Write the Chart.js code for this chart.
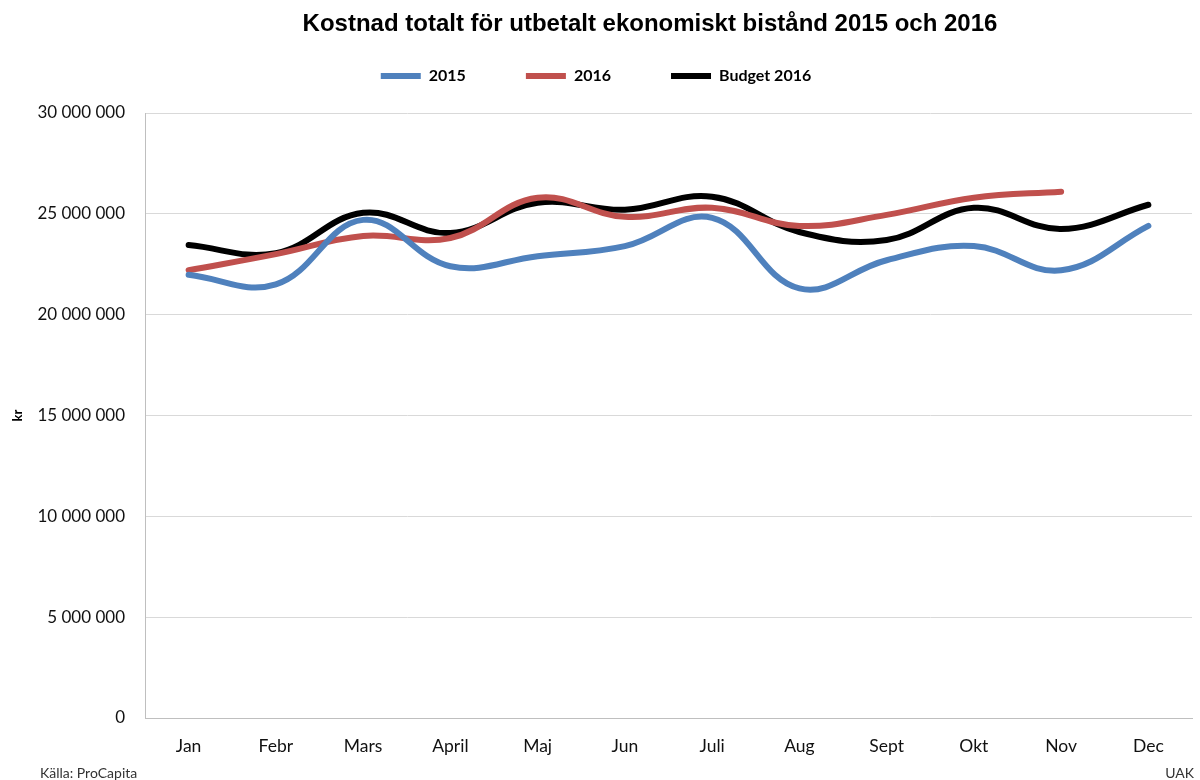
<!DOCTYPE html>
<html>
<head>
<meta charset="utf-8">
<script src="https://cdn.jsdelivr.net/npm/chart.js@4"></script>
<style>
    html, body { margin: 0; padding: 0; background: #fff; }
    #wrap { position: relative; width: 1200px; height: 780px; }
</style>
</head>
<body>
<div id="wrap"><canvas id="kostnadChart"></canvas></div>
<script>
    // Data
    const manader = ["Jan", "Febr", "Mars", "April", "Maj", "Jun", "Juli", "Aug", "Sept", "Okt", "Nov", "Dec"];
    const utfall2015 = [21980000, 21500000, 24700000, 22400000, 22900000, 23400000, 24800000, 21300000, 22700000, 23400000, 22200000, 24400000];
    const utfall2016 = [22200000, 23000000, 23900000, 23800000, 25800000, 24850000, 25300000, 24400000, 24950000, 25800000, 26100000, null];
    const budget2016 = [23450000, 23050000, 25050000, 24050000, 25550000, 25200000, 25850000, 24100000, 23700000, 25300000, 24250000, 25450000];
    const yTicks = [0, 5000000, 10000000, 15000000, 20000000, 25000000, 30000000];

    function formatKr(v) {
        return String(v).replace(/\B(?=(\d{3})+(?!\d))/g, " ");
    }

    // Justeringar av titel/legend + Källa / UAK längst ner
    const layoutFix = {
        id: "layoutFix",
        afterInit(chart) {
            const legend = chart.legend;
            const origFit = legend.fit;
            legend.fit = function () {
                origFit.call(this);
                this.height += 19;
            };
        },
        afterLayout(chart) {
            // titeln ligger lite till höger i originalet
            chart.titleBlock.left = 108;
        },
        afterDraw(chart) {
            const c = chart.ctx;
            c.save();
            c.font = "14px Lato";
            c.fillStyle = "#333";
            c.textBaseline = "middle";
            c.textAlign = "left";
            c.fillText("Källa: ProCapita", 40, 773);
            c.textAlign = "right";
            c.fillText("UAK", 1194, 773);
            c.restore();
        }
    };

    function linje(label, data, farg) {
        return {
            label: label,
            data: data,
            borderColor: farg,
            backgroundColor: farg,
            borderWidth: 6,
            tension: 0.4,
            pointRadius: 0,
            borderCapStyle: "round",
            fill: false
        };
    }

    const ctx = document.getElementById("kostnadChart").getContext("2d");
    new Chart(ctx, {
        type: "line",
        data: {
            labels: manader,
            datasets: [
                linje("2015", utfall2015, "#4f81bd"),
                linje("2016", utfall2016, "#c0504d"),
                linje("Budget 2016", budget2016, "#000000")
            ]
        },
        options: {
            responsive: true,
            maintainAspectRatio: false,
            animation: false,
            layout: { padding: { left: 0, right: 8, top: 2, bottom: 5 } },
            plugins: {
                title: {
                    display: true,
                    text: "Kostnad totalt för utbetalt ekonomiskt bistånd 2015 och 2016",
                    font: { family: "Liberation Sans", size: 24, weight: "bold" },
                    color: "#000",
                    padding: { top: 8, bottom: -30.8 }
                },
                legend: {
                    position: "top",
                    labels: {
                        usePointStyle: true,
                        pointStyle: "line",
                        pointStyleWidth: 40,
                        boxHeight: 8,
                        padding: 60,
                        color: "#000",
                        font: { family: "Lato", size: 16, weight: "bold" }
                    }
                },
                tooltip: { enabled: false }
            },
            scales: {
                x: {
                    offset: true,
                    grid: { display: false, drawTicks: false },
                    border: { display: true, color: "#bfbfbf" },
                    ticks: {
                        color: "#111",
                        padding: 18,
                        font: { family: "Lato", size: 17.5 }
                    }
                },
                y: {
                    min: 0,
                    max: 30000000,
                    afterBuildTicks(axis) {
                        axis.ticks = yTicks.map(v => ({ value: v }));
                    },
                    afterFit(axis) {
                        axis.width = 145;
                    },
                    grid: { color: "#d9d9d9", drawTicks: false },
                    border: { display: true, color: "#bfbfbf" },
                    title: {
                        display: true,
                        text: "kr",
                        color: "#000",
                        font: { family: "Lato", size: 13, weight: "bold" },
                        padding: { top: 10, bottom: 0 }
                    },
                    ticks: {
                        color: "#111",
                        padding: 20,
                        font: { family: "Lato", size: 17 },
                        callback: v => formatKr(v)
                    }
                }
            }
        },
        plugins: [layoutFix]
    });
</script>
</body>
</html>
